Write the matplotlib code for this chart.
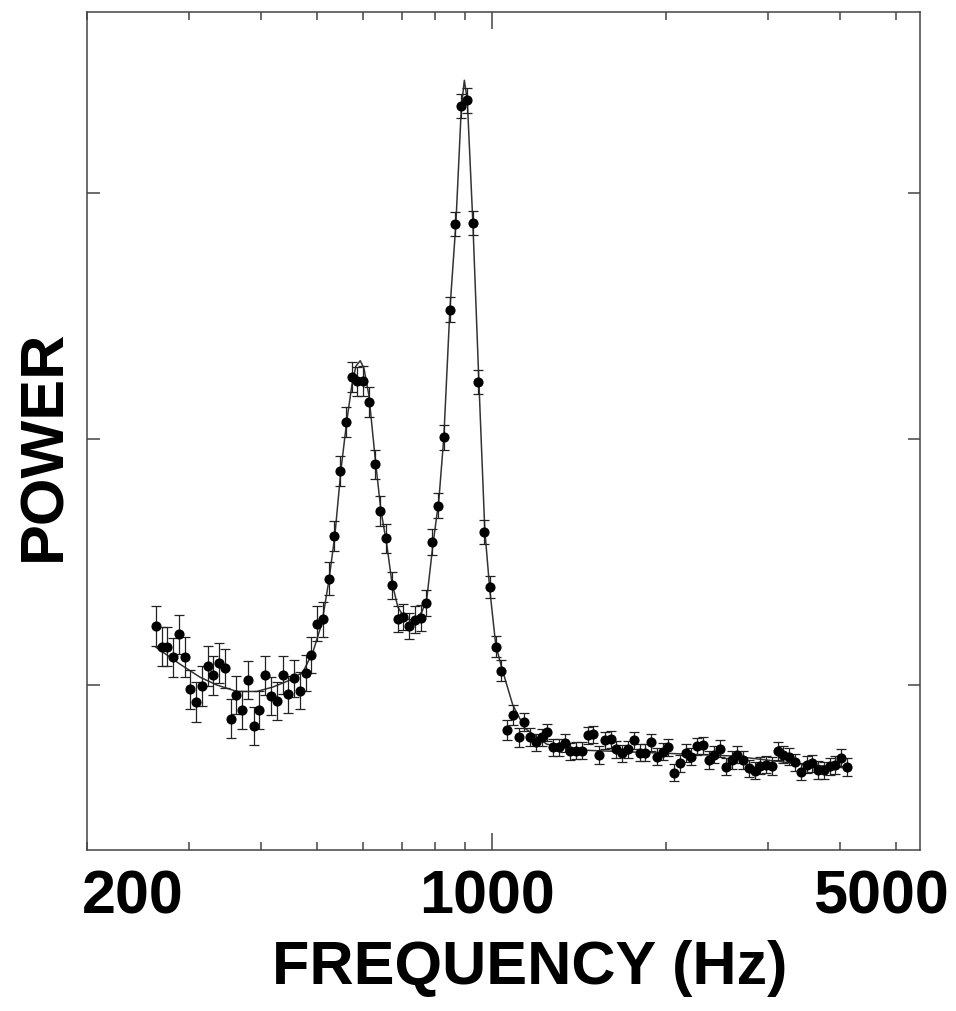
import matplotlib
matplotlib.use("Agg")
import matplotlib.pyplot as plt
from matplotlib.ticker import NullFormatter
from matplotlib.transforms import ScaledTranslation

plt.rcParams["font.family"] = ["Liberation Sans", "DejaVu Sans"]

# ---- data ----
freq = [263.03, 269.12, 275.36, 281.74, 288.27, 294.95, 301.78, 308.78, 315.94, 323.25,
        330.75, 338.41, 346.26, 354.28, 362.50, 370.90, 379.49, 388.29, 397.29, 406.49,
        415.90, 425.55, 435.42, 445.50, 455.83, 466.39, 477.20, 488.26, 499.58, 511.15,
        523.00, 535.11, 547.52, 560.20, 573.19, 586.47, 600.07, 613.97, 628.20, 642.75,
        657.65, 672.89, 688.49, 704.45, 720.77, 737.47, 754.57, 772.05, 789.95, 808.25,
        826.98, 846.14, 865.75, 885.81, 906.35, 927.34, 948.84, 970.83, 993.33, 1016.35,
        1039.88, 1063.98, 1088.68, 1113.87, 1139.75, 1166.11, 1193.17, 1220.81, 1249.06, 1277.97,
        1307.69, 1337.98, 1368.97, 1400.64, 1433.10, 1466.34, 1500.37, 1535.08, 1570.68, 1607.06,
        1644.33, 1682.37, 1721.41, 1761.32, 1802.12, 1843.89, 1886.65, 1930.28, 1975.11, 2020.79,
        2067.68, 2115.62, 2164.65, 2214.75, 2266.14, 2318.58, 2372.32, 2427.31, 2483.59, 2541.12,
        2600.05, 2660.23, 2721.89, 2785.00, 2849.51, 2915.55, 2983.09, 3052.26, 3123.03, 3195.32,
        3269.41, 3345.13, 3422.74, 3501.97, 3583.20, 3666.25, 3751.18, 3838.13, 3927.08, 4018.03,
        4111.17]

power = [1.240, 1.156, 1.156, 1.112, 1.206, 1.114, 0.982, 0.931, 0.996, 1.078,
         1.039, 1.089, 1.068, 0.864, 0.959, 0.898, 1.020, 0.834, 0.898, 1.039,
         0.955, 0.936, 1.041, 0.962, 1.027, 0.977, 1.050, 1.122, 1.249, 1.267,
         1.432, 1.605, 1.870, 2.068, 2.252, 2.233, 2.235, 2.150, 1.896, 1.706,
         1.596, 1.405, 1.270, 1.276, 1.240, 1.266, 1.274, 1.332, 1.582, 1.728,
         2.006, 2.525, 2.872, 3.351, 3.375, 2.877, 2.231, 1.622, 1.398, 1.156,
         1.058, 0.817, 0.877, 0.788, 0.850, 0.788, 0.767, 0.788, 0.808, 0.747,
         0.747, 0.765, 0.731, 0.733, 0.733, 0.796, 0.800, 0.716, 0.775, 0.780,
         0.739, 0.723, 0.739, 0.775, 0.725, 0.725, 0.767, 0.709, 0.729, 0.747,
         0.644, 0.683, 0.724, 0.709, 0.752, 0.755, 0.696, 0.717, 0.742, 0.669,
         0.696, 0.717, 0.696, 0.662, 0.652, 0.673, 0.677, 0.671, 0.732, 0.717,
         0.709, 0.687, 0.648, 0.677, 0.682, 0.655, 0.654, 0.670, 0.675, 0.705,
         0.667]

power_err = [0.082, 0.080, 0.080, 0.080, 0.080, 0.080, 0.080, 0.080, 0.080, 0.080,
             0.080, 0.080, 0.080, 0.078, 0.078, 0.078, 0.078, 0.078, 0.078, 0.078,
             0.078, 0.076, 0.076, 0.076, 0.076, 0.076, 0.074, 0.074, 0.070, 0.070,
             0.068, 0.062, 0.060, 0.060, 0.060, 0.060, 0.060, 0.060, 0.060, 0.060,
             0.058, 0.056, 0.053, 0.053, 0.053, 0.053, 0.053, 0.053, 0.052, 0.050,
             0.050, 0.050, 0.050, 0.050, 0.050, 0.050, 0.050, 0.048, 0.046, 0.044,
             0.043, 0.042, 0.040, 0.038, 0.037, 0.036, 0.035, 0.035, 0.035, 0.035,
             0.035, 0.035, 0.035, 0.035, 0.035, 0.035, 0.035, 0.035, 0.035, 0.035,
             0.035, 0.035, 0.035, 0.035, 0.035, 0.035, 0.035, 0.035, 0.035, 0.035,
             0.035, 0.035, 0.035, 0.035, 0.035, 0.035, 0.035, 0.035, 0.035, 0.035,
             0.035, 0.035, 0.035, 0.035, 0.035, 0.035, 0.035, 0.035, 0.035, 0.035,
             0.035, 0.035, 0.035, 0.035, 0.035, 0.035, 0.035, 0.035, 0.035, 0.035,
             0.035]

fit_freq = [263.0, 289.5, 313.5, 335.4, 363.1, 393.2, 419.0, 448.4, 472.2, 491.4,
            509.3, 523.7, 536.3, 549.3, 562.5, 573.8, 583.0, 593.1, 601.9, 613.9,
            630.5, 643.9, 659.5, 672.7, 688.9, 705.6, 722.6, 740.1, 758.0, 773.2,
            791.9, 811.0, 827.3, 847.3, 867.8, 886.8, 897.6, 908.2, 928.4, 950.8,
            973.7, 993.3, 1017.2, 1041.8, 1088.4, 1141.6, 1245.9, 1420.7, 1953.0, 2611.6,
            3314.4, 4111.0]
fit_power = [1.154, 1.085, 1.032, 1.000, 0.974, 0.974, 0.992, 1.020, 1.053, 1.134,
             1.252, 1.426, 1.609, 1.873, 2.076, 2.218, 2.295, 2.317, 2.287, 2.177,
             1.905, 1.711, 1.568, 1.418, 1.317, 1.276, 1.264, 1.272, 1.296, 1.353,
             1.568, 1.751, 2.007, 2.523, 2.872, 3.343, 3.456, 3.375, 2.880, 2.238,
             1.629, 1.386, 1.162, 1.069, 0.919, 0.825, 0.760, 0.736, 0.724, 0.712,
             0.683, 0.663]

xtick_values = [200, 1000, 5000]
xtick_labels = ["200", "1000", "5000"]
xminor_values = [300, 400, 500, 600, 700, 800, 900, 2000, 3000, 4000]
ytick_values = [1, 2, 3]

# ---- figure ----
fig = plt.figure(figsize=(9.56, 10.11), dpi=100)
ax = fig.add_axes([0.0910, 0.1592, 0.8713, 0.8289])
ax.set_xscale("log")

ax.plot(fit_freq, fit_power, color="#333333", lw=1.1, zorder=2)
ax.errorbar(freq, power, yerr=power_err, fmt="o", color="black", ms=6.3,
            ecolor="#222222", elinewidth=0.9, capsize=3.3, capthick=0.9, zorder=3)

ax.set_xlim(200, 5500)
ax.set_ylim(0.33, 3.733)

ax.set_xticks(xtick_values)
ax.set_xticklabels(xtick_labels)
ax.set_xticks(xminor_values, minor=True)
ax.xaxis.set_minor_formatter(NullFormatter())
ax.set_yticks(ytick_values)

edge = "#444444"
for sp in ax.spines.values():
    sp.set_linewidth(1.1)
    sp.set_color(edge)

ax.tick_params(axis="x", which="both", direction="in", top=True, bottom=True,
               length=6, width=1.1, color=edge, pad=14, labelsize=44)
ax.tick_params(axis="y", which="major", direction="in", left=True, right=True,
               length=9, width=1.1, color=edge, labelleft=False)
ax.tick_params(axis="y", which="minor", left=False, right=False)

for lab in ax.get_xticklabels():
    lab.set_fontweight("bold")

# longer tick at 1000
mt = ax.xaxis.get_major_ticks()
mt[1].tick1line.set_markersize(12)
mt[1].tick2line.set_markersize(12)

# shift the tick labels as in the reference
shifts = [0.46, -0.05, -0.15]
for t, dx in zip(mt, shifts):
    t.label1.set_transform(t.label1.get_transform() +
                           ScaledTranslation(dx, 0, fig.dpi_scale_trans))

ax.set_xlabel("FREQUENCY (Hz)", fontsize=44, fontweight="bold")
ax.xaxis.set_label_coords(0.532, -0.141)
ax.xaxis.label.set_va("center")

ax.set_ylabel("POWER", fontsize=44, fontweight="bold")
ax.yaxis.set_label_coords(-0.0504, 0.4833)
ax.yaxis.label.set_va("center")

fig.savefig("out.png", dpi=100)
